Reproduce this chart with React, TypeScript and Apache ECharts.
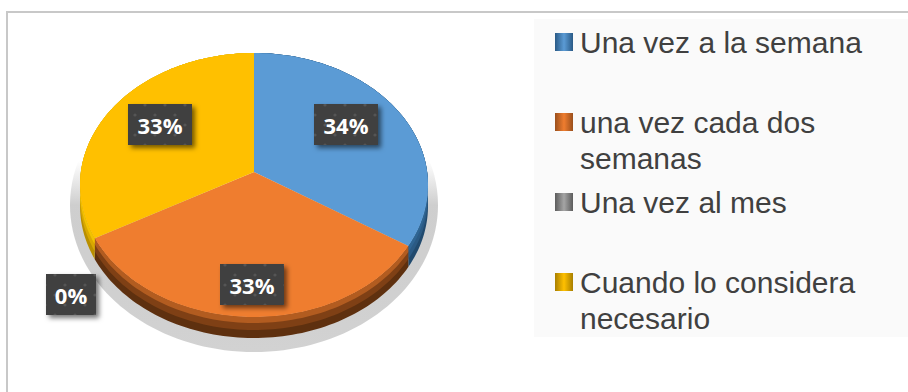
import React, { useEffect, useRef } from "react";
import * as echarts from "echarts";

const categories = [
  "Una vez a la semana",
  "una vez cada dos\nsemanas",
  "Una vez al mes",
  "Cuando lo considera\nnecesario",
];
const shares = [34, 33, 0, 33];
const colors = ["#5B9BD5", "#EF7D2F", "#A5A5A5", "#FFC000"];
const wallColors = [
  ["#2f6593", "#2b5a84", "#214a6e"],
  ["#b25c20", "#7f4015", "#5e300f"],
  ["#777777", "#666666", "#555555"],
  ["#f2c200", "#d9a800", "#b98f00"],
];
const iconEdges = ["#2a5a86", "#9a4f1c", "#5c5c5c", "#a87f00"];
const labelCenters = [
  [346, 124.5],
  [252, 284.5],
  [71, 294.5],
  [160, 124.5],
];
const labelWidths = [64, 64, 50, 64];
const wallBands = [21, 13, 6];

const PIE = { cx: 254, cy: 185, rx: 174, ry: 132, k: -0.098 };
const SAMPLES = 80;

// Projects a point of the unit disc (clockwise angle from the top) on to the tilted pie.
function project(turn: number, radius = 1): number[] {
  const a = turn * Math.PI * 2;
  const u = Math.sin(a) * radius;
  const v = -Math.cos(a) * radius;
  const d = 1 + PIE.k * v;
  return [
    PIE.cx + (PIE.rx * u * Math.sqrt(1 - PIE.k * PIE.k)) / d,
    PIE.cy + (PIE.ry * (v + PIE.k)) / d,
  ];
}

function rimPoints(from: number, to: number): number[][] {
  const pts: number[][] = [];
  for (let i = 0; i <= SAMPLES; i++) {
    pts.push(project(from + ((to - from) * i) / SAMPLES));
  }
  return pts;
}

function dotPattern(): any {
  const c = document.createElement("canvas");
  c.width = 20;
  c.height = 20;
  const g = c.getContext("2d") as CanvasRenderingContext2D;
  g.fillStyle = "#404040";
  g.fillRect(0, 0, 20, 20);
  g.fillStyle = "#555555";
  [
    [5, 5],
    [15, 15],
  ].forEach(([x, y]) => {
    g.beginPath();
    g.arc(x, y, 1.6, 0, Math.PI * 2);
    g.fill();
  });
  return { type: "pattern", image: c.toDataURL(), repeat: "repeat", imageWidth: 20, imageHeight: 20 };
}

const total = shares.reduce((a, b) => a + b, 0);

function buildOption(): any {
  const pattern = dotPattern();
  const series = categories.map((name, idx) => {
    const before = shares.slice(0, idx).reduce((a, b) => a + b, 0);
    return {
      type: "custom",
      name,
      coordinateSystem: "none",
      data: [[shares[idx]]],
      renderItem: (_p: any, api: any) => {
        const value = api.value(0) as number;
        const from = before / total;
        const to = (before + value) / total;
        const children: any[] = [];
        if (value > 0) {
          const rim = rimPoints(from, to);
          wallBands.forEach((depth, b) => {
            const lower = rim.map((p) => [p[0], p[1] + depth]).reverse();
            children.push({
              type: "polygon",
              z2: 1 + b,
              shape: { points: rim.concat(lower) },
              style: { fill: wallColors[idx][2 - b] },
            });
          });
          children.push({
            type: "polygon",
            z2: 10,
            shape: { points: [project(0, 0)].concat(rim) },
            style: { fill: colors[idx] },
          });
        }
        const [lx, ly] = labelCenters[idx];
        const w = labelWidths[idx];
        children.push({
          type: "rect",
          z2: 20,
          shape: { x: lx - w / 2, y: ly - 20.5, width: w, height: 41 },
          style: {
            fill: "#404040",
            shadowBlur: 5,
            shadowOffsetX: 3,
            shadowOffsetY: 3,
            shadowColor: "rgba(0,0,0,0.55)",
          },
        });
        children.push({
          type: "rect",
          z2: 21,
          shape: { x: lx - w / 2, y: ly - 20.5, width: w, height: 41 },
          style: { fill: pattern },
        });
        children.push({
          type: "text",
          z2: 22,
          style: {
            x: lx,
            y: ly,
            text: `${value}%`,
            fill: "#ffffff",
            align: "center",
            verticalAlign: "middle",
            font: '700 22px "Open Sans"',
          },
        });
        return { type: "group", children };
      },
    };
  });

  return {
    animation: false,
    backgroundColor: "#ffffff",
    legend: {
      orient: "vertical",
      left: 555,
      top: 24,
      padding: 0,
      itemGap: 8,
      itemWidth: 18,
      itemHeight: 72,
      selectedMode: false,
      icon: "path://M0 9L18 9L18 27L0 27Z M0 0L0 0 M0 72L0 72",
      data: categories.map((name, i) => ({
        name,
        itemStyle: {
          color: {
            type: "linear",
            x: 0,
            y: 0,
            x2: 1,
            y2: 0,
            colorStops: [
              { offset: 0, color: iconEdges[i] },
              { offset: 0.5, color: colors[i] },
              { offset: 1, color: iconEdges[i] },
            ],
          },
        },
      })),
      formatter: (name: string) => (name.includes("\n") ? name : name + "\n "),
      textStyle: {
        fontFamily: '"Liberation Sans"',
        fontSize: 30,
        lineHeight: 36,
        color: "#404040",
        padding: [0, 0, 0, 2],
      },
    },
    graphic: [
      { type: "rect", z: -10, shape: { x: 534, y: 19, width: 374, height: 318 }, style: { fill: "#fafafa" } },
      { type: "rect", z: -9, shape: { x: 6, y: 11, width: 902, height: 2 }, style: { fill: "#c8c8c8" } },
      { type: "rect", z: -9, shape: { x: 6, y: 11, width: 2, height: 381 }, style: { fill: "#c8c8c8" } },
      {
        type: "ellipse",
        z: -5,
        shape: { cx: 254, cy: 205, rx: 184, ry: 147 },
        style: {
          fill: {
            type: "linear",
            x: 0,
            y: 0,
            x2: 0,
            y2: 1,
            colorStops: [
              { offset: 0, color: "rgba(190,190,190,0)" },
              { offset: 0.35, color: "rgba(190,190,190,0)" },
              { offset: 0.5, color: "rgba(190,190,190,0.75)" },
              { offset: 1, color: "rgba(205,205,205,0.9)" },
            ],
          },
        },
      },
    ],
    series,
  };
}

export default function App() {
  const ref = useRef<HTMLDivElement>(null);
  useEffect(() => {
    const chart = echarts.init(ref.current as HTMLDivElement, undefined, { renderer: "svg" });
    chart.setOption(buildOption());
    return () => chart.dispose();
  }, []);
  return <div ref={ref} style={{ position: "fixed", left: 0, top: 0, width: 908, height: 392 }} />;
}
